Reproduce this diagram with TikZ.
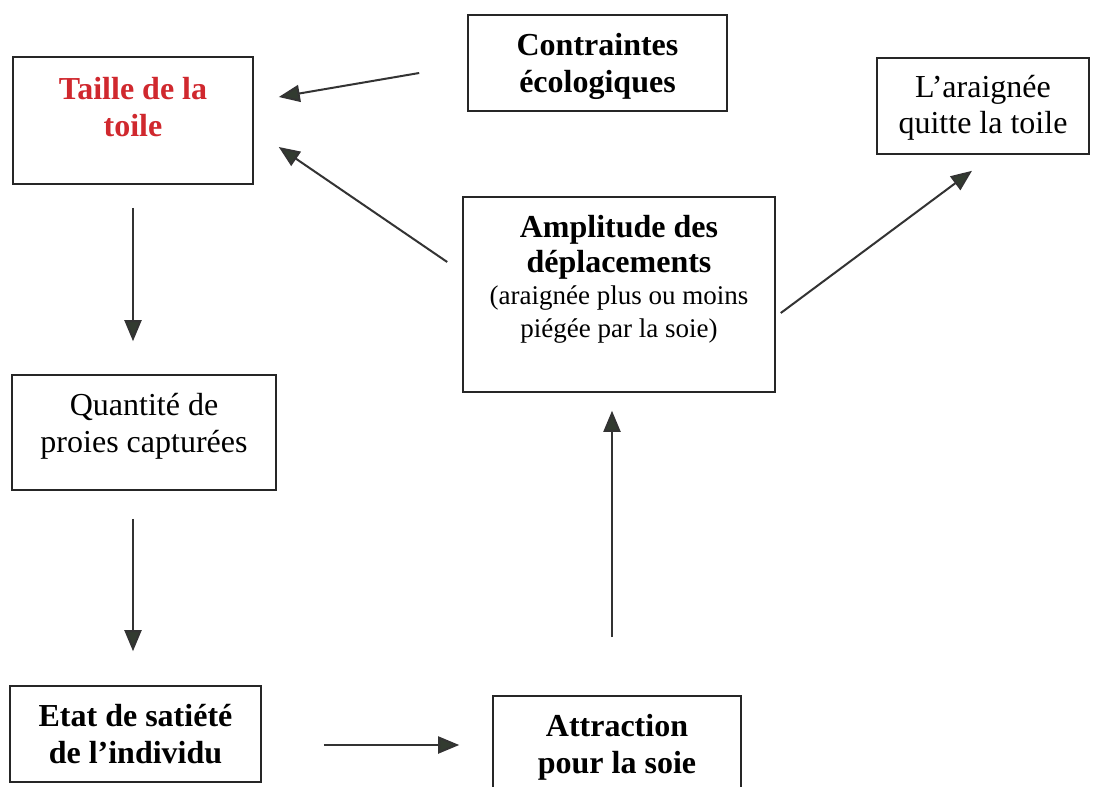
\documentclass[tikz,border=0pt]{standalone}
\usepackage{fontspec}
\setmainfont{Liberation Serif}
\usetikzlibrary{arrows.meta}
\definecolor{boxred}{HTML}{D0282E}
\definecolor{tipcol}{HTML}{323B30}
\newcommand\RR[2]{\rule[-#2pt]{0pt}{\dimexpr #1pt + #2pt\relax}}
\newenvironment{lines}{\renewcommand\arraystretch{0}\begin{tabular}{@{}c@{}}}{\end{tabular}}
\tikzset{
  box/.style={draw=black!85, line width=1.6pt, rectangle, inner sep=0pt, align=center,
    font=\fontsize{32}{37}\selectfont},
  boldbox/.style={box, font=\fontsize{32}{37}\selectfont\bfseries},
  arr/.style={draw=black!80, line width=2pt, -{Triangle[length=21pt,width=17pt,fill=tipcol]}}
}
\begin{document}
\begin{tikzpicture}[x=1pt,y=-1pt]
\useasboundingbox[fill=white] (0,0) rectangle (1096,787);
\node[boldbox, minimum width=240pt, minimum height=127pt, text=boxred] (taille) at (133,120.5)
  {\begin{lines}Taille de la\RR{28}{9}\\toile\RR{28}{34}\end{lines}};
\node[boldbox, minimum width=259pt, minimum height=96pt] (contr) at (597.5,63)
  {\begin{lines}Contraintes\RR{30}{9}\\écologiques\RR{28}{9}\end{lines}};
\node[box, minimum width=212pt, minimum height=96pt] (quitte) at (983,106)
  {\begin{lines}L’araignée\RR{28}{9}\\quitte la toile\RR{27}{10}\end{lines}};
\node[box, minimum width=312pt, minimum height=195pt] (ampl) at (619,294.5)
  {\begin{lines}\bfseries Amplitude des\RR{28}{9}\\\bfseries déplacements\RR{26}{9}\\
   \fontsize{27}{30}\selectfont (araignée plus ou moins\RR{23}{9}\\
   \fontsize{27}{30}\selectfont piégée par la soie)\RR{24}{43}\end{lines}};
\node[box, minimum width=264pt, minimum height=115pt] (quant) at (144,432.5)
  {\begin{lines}Quantité de\RR{28}{9}\\proies capturées\RR{28}{26}\end{lines}};
\node[boldbox, minimum width=251pt, minimum height=96pt] (etat) at (135.5,734)
  {\begin{lines}Etat de satiété\RR{30}{9}\\de l’individu\RR{28}{9}\end{lines}};
\node[boldbox, minimum width=248pt, minimum height=104pt] (attr) at (617,748)
  {\begin{lines}Attraction\RR{28}{9}\\pour la soie\RR{28}{15}\end{lines}};

\draw[arr] ([xshift=-48pt,yshift=-10pt]contr.west) -- ([xshift=25pt,yshift=23.5pt]taille.east);
\draw[arr] ([xshift=-15pt,yshift=32.5pt]ampl.west) -- ([xshift=25pt,yshift=-26.5pt]taille.east);
\draw[arr] ([xshift=5pt,yshift=-18.5pt]ampl.east) -- ([xshift=-11pt,yshift=-16pt]quitte.south);
\draw[arr, shorten <=23pt, shorten >=33pt] (taille.south) -- (taille.south |- quant.north);
\draw[arr, shorten <=28pt, shorten >=34pt] (taille.south |- quant.south) -- (taille.south |- etat.north);
\draw[arr, shorten <=62pt, shorten >=33pt] ([yshift=-11pt]etat.east) -- ([yshift=-11pt]etat.east -| attr.west);
\draw[arr, shorten <=58pt, shorten >=18pt] ([xshift=-5pt]attr.north) -- ([xshift=-5pt]attr.north |- ampl.south);
\end{tikzpicture}
\end{document}
